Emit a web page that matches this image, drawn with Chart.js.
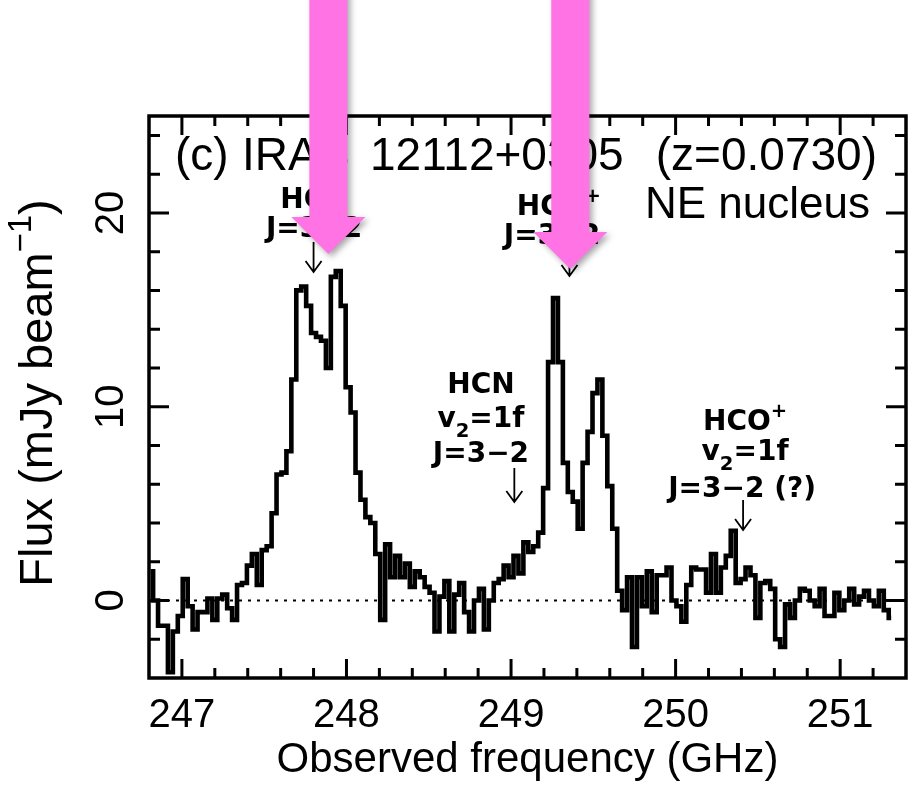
<!DOCTYPE html>
<html>
<head>
<meta charset="utf-8">
<script src="https://cdn.jsdelivr.net/npm/chart.js@4.4.0/dist/chart.umd.min.js"></script>
<style>
  html, body { margin: 0; padding: 0; background: #fff; }
  #wrap { width: 914px; height: 789px; }
</style>
</head>
<body>
<div id="wrap"><canvas id="spectrum" width="914" height="789"></canvas></div>
<script>
// Channel centres (GHz)
var freqGHz = [
  246.81, 246.84, 246.87, 246.90, 246.93, 246.96, 246.99, 247.02, 247.05, 247.08,
  247.11, 247.14, 247.17, 247.20, 247.23, 247.26, 247.29, 247.32, 247.35, 247.38,
  247.41, 247.44, 247.47, 247.50, 247.53, 247.56, 247.59, 247.62, 247.65, 247.68,
  247.71, 247.74, 247.77, 247.80, 247.83, 247.86, 247.89, 247.92, 247.95, 247.98,
  248.01, 248.04, 248.07, 248.10, 248.13, 248.16, 248.19, 248.22, 248.25, 248.28,
  248.31, 248.34, 248.37, 248.40, 248.43, 248.46, 248.49, 248.52, 248.55, 248.58,
  248.61, 248.64, 248.67, 248.70, 248.73, 248.76, 248.79, 248.82, 248.85, 248.88,
  248.91, 248.94, 248.97, 249.00, 249.03, 249.06, 249.09, 249.12, 249.15, 249.18,
  249.21, 249.24, 249.27, 249.30, 249.33, 249.36, 249.39, 249.42, 249.45, 249.48,
  249.51, 249.54, 249.57, 249.60, 249.63, 249.66, 249.69, 249.72, 249.75, 249.78,
  249.81, 249.84, 249.87, 249.90, 249.93, 249.96, 249.99, 250.02, 250.05, 250.08,
  250.11, 250.14, 250.17, 250.20, 250.23, 250.26, 250.29, 250.32, 250.35, 250.38,
  250.41, 250.44, 250.47, 250.50, 250.53, 250.56, 250.59, 250.62, 250.65, 250.68,
  250.71, 250.74, 250.77, 250.80, 250.83, 250.86, 250.89, 250.92, 250.95, 250.98,
  251.01, 251.04, 251.07, 251.10, 251.13, 251.16, 251.19, 251.22, 251.25, 251.28,
  251.31
];

// Flux per channel (mJy/beam)
var fluxMJy = [
  1.5, 0.0, -1.3, -1.3, -3.7, -1.6, -0.8, 1.1, -0.3, -1.5,
  -0.6, -0.6, 0.1, -1.0, 0.1, 0.3, -0.4, -1.0, 0.8, 0.9,
  1.8, 2.4, 0.8, 2.6, 2.8, 4.5, 6.5, 6.6, 7.7, 11.4,
  16.0, 16.2, 15.2, 13.8, 13.6, 13.4, 12.0, 16.7, 17.0, 15.2,
  11.0, 9.7, 6.6, 5.2, 4.3, 4.0, 2.4, -1.0, 2.9, 1.2,
  2.3, 1.2, 1.9, 0.7, 1.5, 1.2, 0.7, 0.4, -1.6, 0.2,
  1.0, -1.6, 0.3, 0.9, -0.6, -1.6, 0.0, 0.6, -1.5, 0.0,
  0.9, 1.1, 1.8, 1.2, 2.3, 1.4, 3.0, 2.5, 2.8, 3.5,
  5.8, 12.3, 15.6, 12.3, 7.1, 5.6, 5.1, 3.7, 7.1, 8.7,
  10.7, 11.4, 8.5, 5.9, 3.7, 0.5, -0.5, 1.2, -2.4, 1.2,
  -0.3, 1.5, -0.6, 1.3, 1.3, 1.7, 0.0, -0.3, -1.1, 0.8,
  1.7, 1.6, 1.6, 0.4, 2.4, 0.4, 1.7, 2.3, 3.6, 0.9,
  1.1, 1.7, 1.3, -0.9, 0.9, 1.0, 0.6, -2.0, -2.4, -0.2,
  -0.9, 0.0, 0.6, 0.5, 0.0, -0.3, 0.6, -0.8, -0.8, 0.4,
  -0.5, 0.0, 0.6, -0.2, 0.2, 0.5, 0.0, -0.3, 0.5, -0.5,
  -0.9
];

// Axes
var xRange = [246.8, 251.4];
var yRange = [-4, 25];
var xMajorTicks = [247, 248, 249, 250, 251];
var yMajorTicks = [0, 10, 20];
var xMinorStep = 0.2;
var yMinorStep = 2;
var baselineFlux = 0;

// Line identifications: arrow frequency, arrow top and tip (mJy/beam)
var lineFreq = [247.80, 249.355, 249.02, 250.41];
var arrowTop = [18.5, 18.3, 6.84, 5.19];
var arrowTip = [16.95, 16.74, 5.08, 3.64];

// Highlight arrows laid over the figure (frequency they point at)
var highlightFreq = [247.89, 249.36];

var mainFont = '"Liberation Sans", Arial, sans-serif';
var tagFont = '"DejaVu Sans", sans-serif';

// draw a run of text pieces (normal / sub / sup), centred or left aligned
function richText(ctx, x, y, pieces, size, family, weight, align) {
  var total = 0;
  pieces.forEach(function(p) {
    var s = p.sub || p.sup ? size * 0.7 : size;
    ctx.font = weight + ' ' + s + 'px ' + family;
    p.w = ctx.measureText(p.t).width;
    total += p.w;
  });
  var cx = align === 'center' ? x - total / 2 : (align === 'right' ? x - total : x);
  pieces.forEach(function(p) {
    var s = p.sub || p.sup ? size * 0.7 : size;
    var dy = p.sub ? size * 0.35 : (p.sup ? -size * 0.45 : 0);
    ctx.font = weight + ' ' + s + 'px ' + family;
    ctx.fillText(p.t, cx, y + dy);
    cx += p.w;
  });
}

var spectrumFrame = {
  id: 'spectrumFrame',
  afterDatasetsDraw: function(chart) {
    var ctx = chart.ctx;
    var a = chart.chartArea;
    var xs = chart.scales.x, ys = chart.scales.y;
    ctx.save();
    ctx.strokeStyle = '#000';
    ctx.fillStyle = '#000';
    ctx.lineCap = 'butt';

    // frame
    ctx.lineWidth = 3.5;
    ctx.strokeRect(a.left, a.top, a.right - a.left, a.bottom - a.top);

    // x ticks, bottom and top, pointing inwards
    ctx.lineWidth = 3;
    var nx = Math.round((xRange[1] - xRange[0]) / xMinorStep);
    for (var k = 1; k < nx; k++) {
      var v = xRange[0] + k * xMinorStep;
      var major = Math.abs(v - Math.round(v)) < 1e-6;
      var len = major ? 19 : 10;
      var px = xs.getPixelForValue(v);
      ctx.beginPath();
      ctx.moveTo(px, a.bottom); ctx.lineTo(px, a.bottom - len);
      ctx.moveTo(px, a.top); ctx.lineTo(px, a.top + len);
      ctx.stroke();
    }
    // y ticks, left and right
    var ny = Math.round((yRange[1] - yRange[0]) / yMinorStep);
    for (var j = 1; j < ny; j++) {
      var w = yRange[0] + j * yMinorStep;
      var ylen = yMajorTicks.indexOf(w) >= 0 ? 20 : 11;
      var py = ys.getPixelForValue(w);
      ctx.beginPath();
      ctx.moveTo(a.left, py); ctx.lineTo(a.left + ylen, py);
      ctx.moveTo(a.right, py); ctx.lineTo(a.right - ylen, py);
      ctx.stroke();
    }

    // tick labels
    ctx.textBaseline = 'alphabetic';
    ctx.textAlign = 'center';
    ctx.font = '40px ' + mainFont;
    xMajorTicks.forEach(function(t) {
      ctx.fillText(String(t), xs.getPixelForValue(t), 727);
    });
    yMajorTicks.forEach(function(t) {
      ctx.save();
      ctx.translate(123, ys.getPixelForValue(t));
      ctx.rotate(-Math.PI / 2);
      ctx.fillText(String(t), 0, 0);
      ctx.restore();
    });

    // axis titles
    ctx.font = '42px ' + mainFont;
    ctx.fillText('Observed frequency (GHz)', (a.left + a.right) / 2, 772);
    ctx.save();
    ctx.translate(52, (a.top + a.bottom) / 2 - 4);
    ctx.rotate(-Math.PI / 2);
    ctx.textAlign = 'left';
    richText(ctx, 0, 0, [{t: 'Flux (mJy beam'}, {t: '\u22121', sup: true}, {t: ')'}], 47, mainFont, 'normal', 'center');
    ctx.restore();

    // panel title
    ctx.textAlign = 'left';
    ctx.font = '46px ' + mainFont;
    ctx.fillText('(c)', 175, 170);
    ctx.fillText('IRAS', 242, 170);
    ctx.fillText('12112+0305', 370, 170);
    ctx.textAlign = 'right';
    ctx.fillText('(z=0.0730)', 877, 170);
    ctx.font = '44px ' + mainFont;
    ctx.fillText('NE nucleus', 870, 218);

    // line identification labels
    ctx.textAlign = 'left';
    function tag(f, v, pieces) {
      richText(ctx, xs.getPixelForValue(f), ys.getPixelForValue(v), pieces, 28, tagFont, 'bold', 'center');
    }
    tag(247.803, 20.25, [{t: 'HCN'}]);
    tag(247.803, 18.76, [{t: 'J=3\u22122'}]);
    tag(249.291, 19.89, [{t: 'HCO'}, {t: '+', sup: true}]);
    tag(249.249, 18.40, [{t: 'J=3\u22122'}]);
    tag(248.817, 10.71, [{t: 'HCN'}]);
    tag(248.817, 8.95, [{t: 'v'}, {t: '2', sub: true}, {t: '=1f'}]);
    tag(248.817, 7.15, [{t: 'J=3\u22122'}]);
    tag(250.422, 8.80, [{t: 'HCO'}, {t: '+', sup: true}]);
    tag(250.422, 7.25, [{t: 'v'}, {t: '2', sub: true}, {t: '=1f'}]);
    tag(250.404, 5.34, [{t: 'J=3\u22122 (?)'}]);

    // small arrows
    ctx.lineWidth = 1.8;
    for (var i = 0; i < lineFreq.length; i++) {
      var ax = xs.getPixelForValue(lineFreq[i]);
      var top = ys.getPixelForValue(arrowTop[i]);
      var tip = ys.getPixelForValue(arrowTip[i]);
      ctx.beginPath();
      ctx.moveTo(ax, top); ctx.lineTo(ax, tip);
      ctx.moveTo(ax - 8, tip - 11); ctx.lineTo(ax, tip); ctx.lineTo(ax + 8, tip - 11);
      ctx.stroke();
    }
    ctx.restore();
  },
  afterDraw: function(chart) {
    var ctx = chart.ctx;
    var xs = chart.scales.x;
    var shaftEnd = [217, 232], tipY = [254, 269];
    ctx.save();
    ctx.fillStyle = '#ff73e4';
    ctx.shadowColor = 'rgba(0,0,0,0.35)';
    ctx.shadowBlur = 6;
    ctx.shadowOffsetX = 3;
    ctx.shadowOffsetY = 3;
    highlightFreq.forEach(function(f, i) {
      var cx = xs.getPixelForValue(f);
      ctx.beginPath();
      ctx.moveTo(cx - 19, -20);
      ctx.lineTo(cx + 19, -20);
      ctx.lineTo(cx + 19, shaftEnd[i]);
      ctx.lineTo(cx + 37, shaftEnd[i]);
      ctx.lineTo(cx, tipY[i]);
      ctx.lineTo(cx - 37, shaftEnd[i]);
      ctx.lineTo(cx - 19, shaftEnd[i]);
      ctx.closePath();
      ctx.fill();
    });
    ctx.restore();
  }
};

var ctx = document.getElementById('spectrum').getContext('2d');
new Chart(ctx, {
  type: 'line',
  data: {
    datasets: [
      {
        data: [{x: xRange[0], y: baselineFlux}, {x: xRange[1], y: baselineFlux}],
        borderColor: '#000',
        borderWidth: 2,
        borderDash: [3, 6],
        pointRadius: 0
      },
      {
        data: freqGHz.map(function(f, i) { return {x: f, y: fluxMJy[i]}; }),
        borderColor: '#000',
        borderWidth: 4.6,
        stepped: 'middle',
        borderJoinStyle: 'miter',
        pointRadius: 0,
        fill: false
      }
    ]
  },
  options: {
    responsive: false,
    animation: false,
    layout: { padding: { left: 149, right: 8, top: 116, bottom: 111 } },
    scales: {
      x: { type: 'linear', min: xRange[0], max: xRange[1], display: false },
      y: { type: 'linear', min: yRange[0], max: yRange[1], display: false }
    },
    plugins: {
      legend: { display: false },
      tooltip: { enabled: false }
    }
  },
  plugins: [spectrumFrame]
});
</script>
</body>
</html>
